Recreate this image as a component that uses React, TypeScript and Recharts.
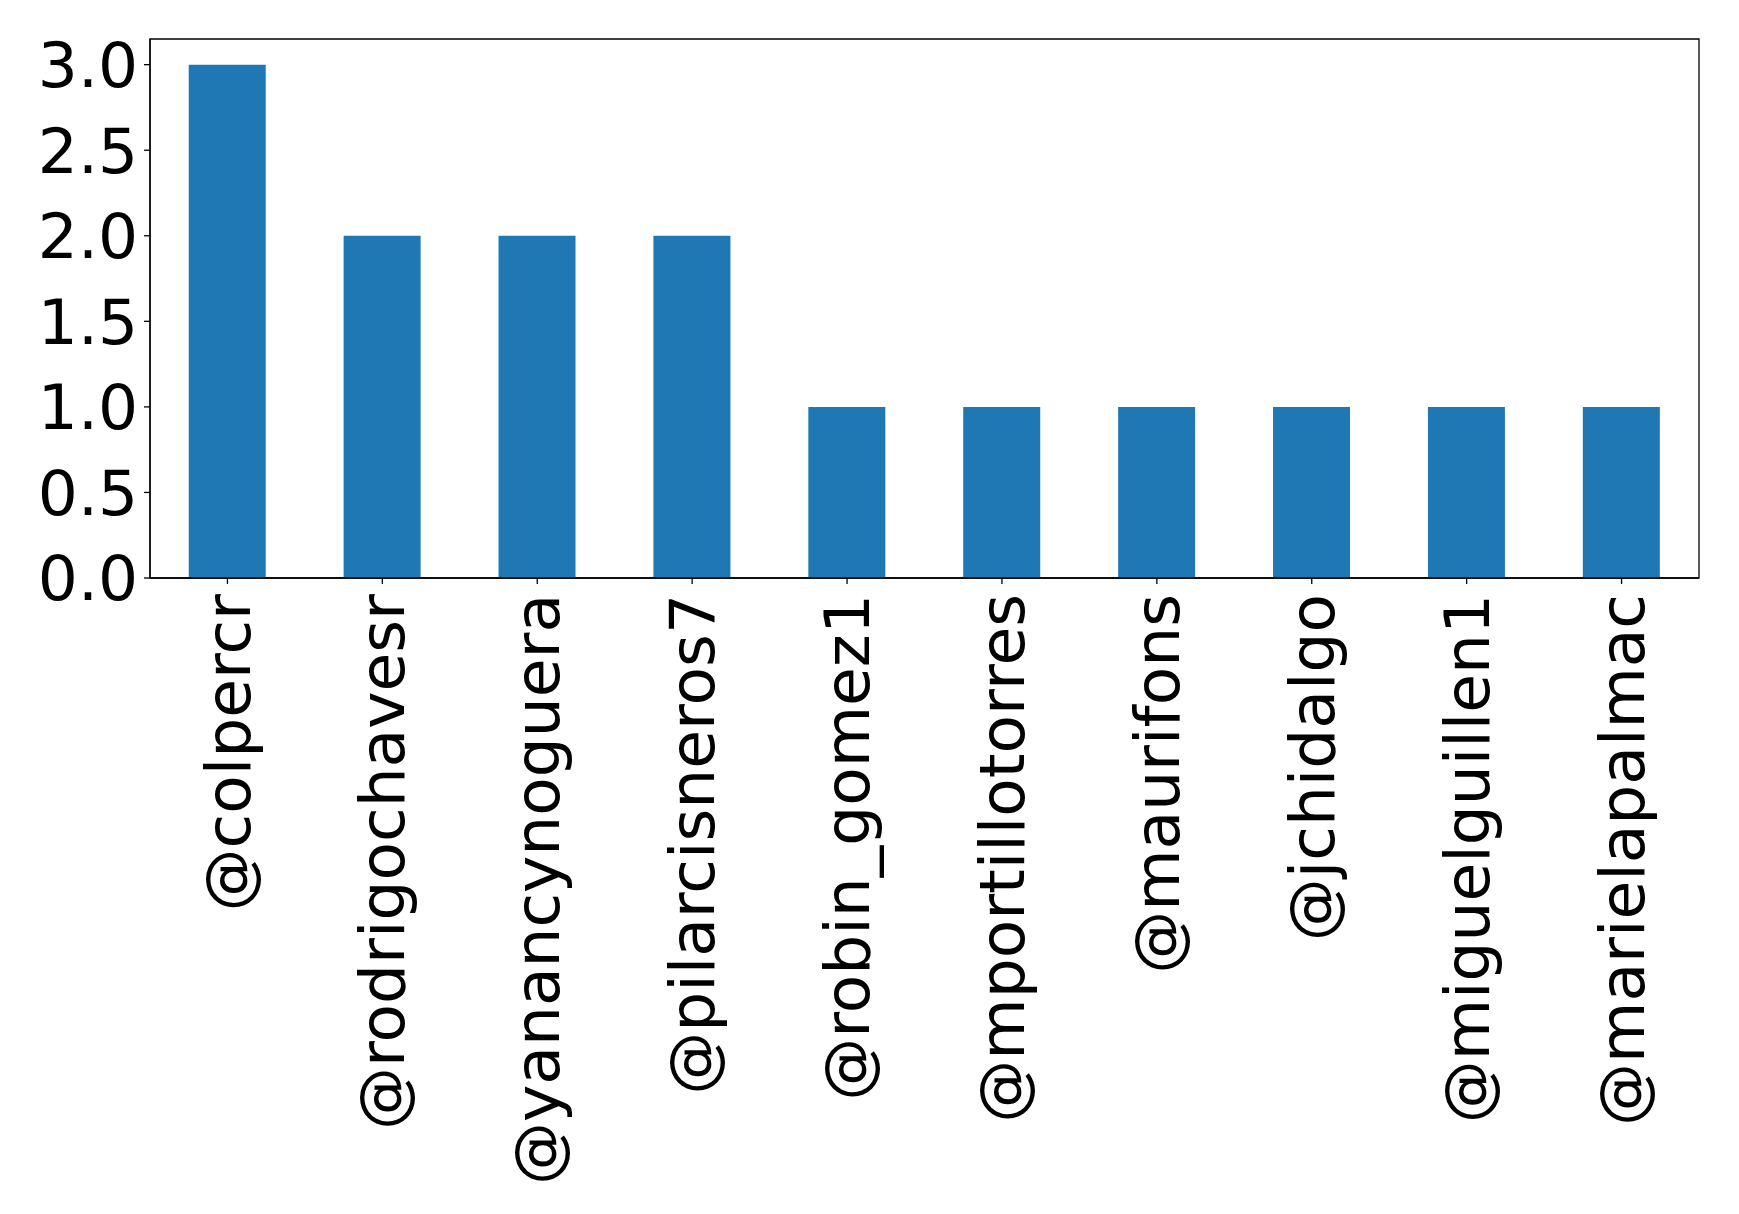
import React from 'react'
import { Bar, BarChart, ReferenceArea, XAxis, YAxis } from 'recharts'

const users = [
  '@colpercr',
  '@rodrigochavesr',
  '@yanancynoguera',
  '@pilarcisneros7',
  '@robin_gomez1',
  '@mportillotorres',
  '@maurifons',
  '@jchidalgo',
  '@miguelguillen1',
  '@marielapalmac',
]
const counts = [3, 2, 2, 2, 1, 1, 1, 1, 1, 1]
const yTicks = [0, 0.5, 1, 1.5, 2, 2.5, 3]
const yMax = 3.15

const data = users.map((name, i) => ({ name, count: counts[i] }))

const FONT = 'DejaVu Sans'

const RotatedTick = (props: any) => {
  const { x, y, payload } = props
  return (
    <text
      x={0}
      y={0}
      transform={`translate(${x},${y + 8}) rotate(-90)`}
      textAnchor="end"
      dy="0.35em"
      fontSize={63}
      fontFamily={FONT}
      fill="#000"
    >
      {payload.value}
    </text>
  )
}

export default function App() {
  return (
    <div style={{ position: 'fixed', left: 0, top: 0, background: '#fff' }}>
      <BarChart
        width={1739}
        height={1214}
        data={data}
        margin={{ top: 39, right: 40, bottom: 0, left: 0 }}
        barCategoryGap="25%"
      >
        <XAxis
          dataKey="name"
          height={636}
          interval={0}
          tick={<RotatedTick />}
          tickSize={6}
          tickLine={{ stroke: '#000', strokeWidth: 1.3 }}
          axisLine={{ stroke: '#000', strokeWidth: 1.3 }}
        />
        <YAxis
          width={150}
          domain={[0, yMax]}
          ticks={yTicks}
          tickFormatter={(v: number) => v.toFixed(1)}
          tickSize={6}
          tickMargin={6}
          tick={{ fontSize: 63, fontFamily: FONT, fill: '#000' }}
          tickLine={{ stroke: '#000', strokeWidth: 1.3 }}
          axisLine={{ stroke: '#000', strokeWidth: 1.3 }}
          allowDataOverflow
        />
        <Bar dataKey="count" fill="#1f77b4" isAnimationActive={false} />
        <ReferenceArea
          x1={users[0]}
          x2={users[users.length - 1]}
          y1={0}
          y2={yMax}
          fill="none"
          fillOpacity={0}
          stroke="#000"
          strokeWidth={1.3}
          ifOverflow="visible"
        />
      </BarChart>
    </div>
  )
}
